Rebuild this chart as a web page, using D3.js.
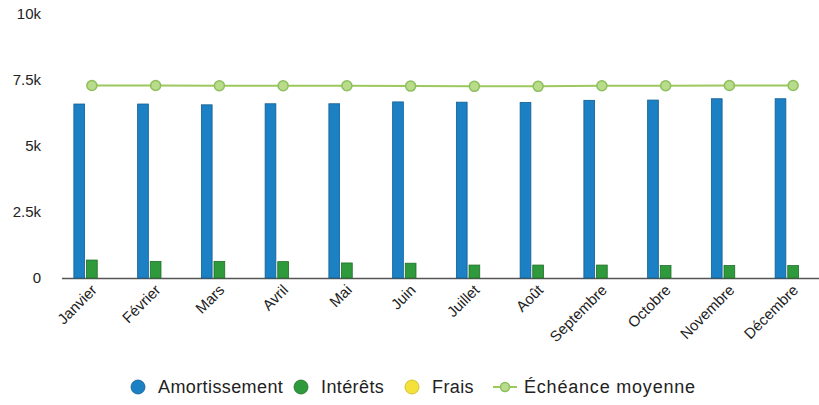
<!DOCTYPE html>
<html><head><meta charset="utf-8">
<script src="https://cdn.jsdelivr.net/npm/d3@7"></script>
<style>body{margin:0;background:#fff;}svg{display:block;font-family:"Liberation Sans",Arial,sans-serif;}</style>
</head><body><svg id="c" width="819" height="405"></svg>
<script>
const months = ["Janvier","Février","Mars","Avril","Mai","Juin","Juillet","Août","Septembre","Octobre","Novembre","Décembre"];
const amortissement = [6590,6590,6560,6600,6600,6670,6660,6650,6730,6740,6790,6790];
const interets = [680,630,630,620,570,560,490,490,490,470,470,470];
const frais = [0,0,0,0,0,0,0,0,0,0,0,0];
const echeance = [7290,7290,7280,7280,7280,7270,7260,7260,7280,7280,7290,7290];
const yTicks = [0,2500,5000,7500,10000];
const yTickLabels = ["0","2.5k","5k","7.5k","10k"];
const seriesNames = ["Amortissement","Intérêts","Frais"];
const seriesColors = ["#1b80c4","#2f9a3c","#f4e23a"];
const seriesStroke = ["#135d90","#1f6e28","#c9b820"];

const svg = d3.select("#c");
const y = d3.scaleLinear().domain([0,10000]).range([278,14]);
const x0 = d3.scaleBand().domain(months).range([60,825]).padding(0);
const half = x0.bandwidth()/2;
const x1 = d3.scaleBand().domain(seriesNames).range([half-18, half+18]).paddingInner(0.15);

svg.append("g").selectAll("text").data(yTicks).join("text")
  .attr("x",41).attr("y",d=>y(d)).attr("dy","0.35em")
  .attr("text-anchor","end").attr("font-size",15).attr("fill","#222")
  .text((d,i)=>yTickLabels[i]);

svg.append("line").attr("x1",62).attr("x2",819).attr("y1",y(0)+0.5).attr("y2",y(0)+0.5)
  .attr("stroke","#555").attr("stroke-width",1.5);

const data = months.map((m,i)=>({m, vals:[amortissement[i],interets[i],frais[i]]}));
const g = svg.append("g").selectAll("g").data(data).join("g")
  .attr("transform",d=>`translate(${x0(d.m)},0)`);
g.selectAll("rect").data(d=>d.vals.map((v,j)=>({v,j}))).join("rect")
  .attr("x",d=>x1(seriesNames[d.j])).attr("width",x1.bandwidth())
  .attr("y",d=>y(d.v)).attr("height",d=>y(0)-y(d.v))
  .attr("fill",d=>seriesColors[d.j]).attr("stroke",d=>d.v>0?seriesStroke[d.j]:"none").attr("stroke-width",0.8);

const line = d3.line().x((d,i)=>x0(months[i])+half).y(d=>y(d));
svg.append("path").datum(echeance).attr("d",line).attr("fill","none")
  .attr("stroke","#9cc85e").attr("stroke-width",2);
svg.append("g").selectAll("circle").data(echeance).join("circle")
  .attr("cx",(d,i)=>x0(months[i])+half).attr("cy",d=>y(d)).attr("r",5)
  .attr("fill","#b8dc8c").attr("stroke","#8dbf5a").attr("stroke-width",1.5);

svg.append("g").selectAll("text").data(months).join("text")
  .attr("transform",d=>`translate(${x0(d)+half+6},${291}) rotate(-45)`)
  .attr("text-anchor","end").attr("font-size",15).attr("fill","#222")
  .text(d=>d);

const leg = svg.append("g");
const legX = [138,301,412];
seriesNames.forEach((n,i)=>{
  leg.append("circle").attr("cx",legX[i]).attr("cy",387).attr("r",7).attr("fill",seriesColors[i]).attr("stroke",seriesStroke[i]).attr("stroke-width",0.8);
  leg.append("text").attr("x",legX[i]+20).attr("y",387).attr("dy","0.35em").attr("font-size",18).attr("letter-spacing",0.4).attr("fill","#222").text(n);
});
leg.append("line").attr("x1",493).attr("x2",517).attr("y1",387).attr("y2",387).attr("stroke","#9cc85e").attr("stroke-width",2);
leg.append("circle").attr("cx",505).attr("cy",387).attr("r",4.5).attr("fill","#b8dc8c").attr("stroke","#8dbf5a").attr("stroke-width",1.5);
leg.append("text").attr("x",524).attr("y",387).attr("dy","0.35em").attr("font-size",18).attr("letter-spacing",0.8).attr("fill","#222").text("Échéance moyenne");
</script></body></html>
